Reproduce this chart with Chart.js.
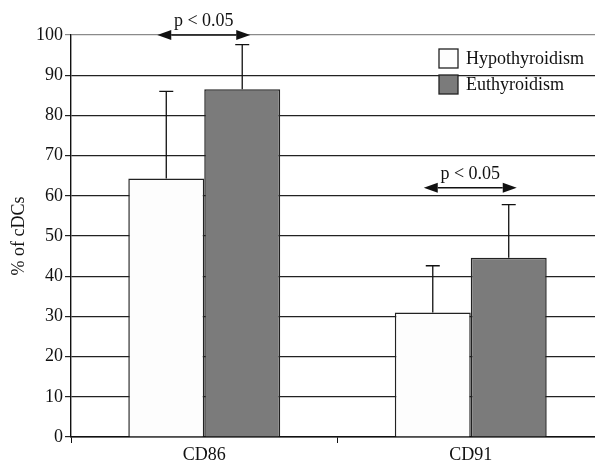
<!DOCTYPE html>
<html>
<head>
<meta charset="utf-8">
<script src="https://cdn.jsdelivr.net/npm/chart.js@4"></script>
<style>
  html, body { margin: 0; padding: 0; background: #fff; overflow: hidden; }
  #wrap { width: 595px; height: 462px; overflow: hidden; }
</style>
</head>
<body>
<div id="wrap"><canvas id="bar-chart" width="604" height="462"></canvas></div>
<script>
// values
const categories = ['CD86', 'CD91'];
const seriesNames = ['Hypothyroidism', 'Euthyroidism'];
const hypoValues = [64.3, 31.0];
const euthValues = [86.5, 44.6];
const hypoErrTop = [86.0, 42.6];
const euthErrTop = [97.6, 57.8];
const sigLevels = [100, 62];   // height of the p < 0.05 arrows
const sigLabel = 'p < 0.05';
const yTicks = [0, 10, 20, 30, 40, 50, 60, 70, 80, 90, 100];

const serif = 'Liberation Serif, Times New Roman, serif';

const errorBars = {
    id: 'errorBars',
    afterDatasetsDraw(chart) {
        const ctx = chart.ctx;
        const y = chart.scales.y;
        const tops = [hypoErrTop, euthErrTop];
        ctx.save();
        ctx.strokeStyle = '#111';
        ctx.lineWidth = 1.3;
        chart.data.datasets.forEach((ds, di) => {
            chart.getDatasetMeta(di).data.forEach((bar, i) => {
                const yt = y.getPixelForValue(tops[di][i]);
                ctx.beginPath();
                ctx.moveTo(bar.x, bar.y);
                ctx.lineTo(bar.x, yt);
                ctx.moveTo(bar.x - 7, yt);
                ctx.lineTo(bar.x + 7, yt);
                ctx.stroke();
            });
        });
        ctx.restore();
    }
};

const sigArrows = {
    id: 'sigArrows',
    afterDraw(chart) {
        const ctx = chart.ctx;
        const y = chart.scales.y;
        const m0 = chart.getDatasetMeta(0).data;
        const m1 = chart.getDatasetMeta(1).data;
        ctx.save();
        ctx.fillStyle = '#111';
        ctx.strokeStyle = '#111';
        ctx.lineWidth = 1.4;
        categories.forEach((c, i) => {
            const x1 = m0[i].x - 9;
            const x2 = m1[i].x + 8;
            const yy = y.getPixelForValue(sigLevels[i]);
            const head = 14, half = 5;
            ctx.beginPath();
            ctx.moveTo(x1 + head, yy);
            ctx.lineTo(x2 - head, yy);
            ctx.stroke();
            ctx.beginPath();
            ctx.moveTo(x1, yy);
            ctx.lineTo(x1 + head, yy - half);
            ctx.lineTo(x1 + head, yy + half);
            ctx.closePath();
            ctx.fill();
            ctx.beginPath();
            ctx.moveTo(x2, yy);
            ctx.lineTo(x2 - head, yy - half);
            ctx.lineTo(x2 - head, yy + half);
            ctx.closePath();
            ctx.fill();
            ctx.font = '18px ' + serif;
            ctx.textAlign = 'center';
            ctx.textBaseline = 'alphabetic';
            ctx.fillText(sigLabel, (x1 + x2) / 2, yy - 9);
        });
        ctx.restore();
    }
};

const boxLegend = {
    id: 'boxLegend',
    afterDraw(chart) {
        const ctx = chart.ctx;
        const a = chart.chartArea;
        const x0 = a.left + 368;
        const y0 = a.top + 14;
        ctx.save();
        ctx.font = '18px ' + serif;
        ctx.textBaseline = 'middle';
        ctx.textAlign = 'left';
        chart.data.datasets.forEach((ds, i) => {
            const yb = y0 + i * 26;
            ctx.fillStyle = ds.backgroundColor;
            ctx.fillRect(x0, yb, 19, 19);
            ctx.strokeStyle = '#222';
            ctx.lineWidth = 1.3;
            ctx.strokeRect(x0, yb, 19, 19);
            ctx.fillStyle = '#111';
            ctx.fillText(ds.label, x0 + 27, yb + 10);
        });
        ctx.restore();
    }
};

new Chart(document.getElementById('bar-chart'), {
    type: 'bar',
    data: {
        labels: categories,
        datasets: [
            {
                label: seriesNames[0],
                data: hypoValues,
                backgroundColor: '#fdfdfd',
                borderColor: '#222',
                borderWidth: 1.5
            },
            {
                label: seriesNames[1],
                data: euthValues,
                backgroundColor: '#7b7b7b',
                borderColor: '#222',
                borderWidth: 1.5
            }
        ]
    },
    options: {
        responsive: false,
        animation: false,
        devicePixelRatio: 1,
        layout: { padding: { top: 35, right: 0, left: 0, bottom: 0 } },
        datasets: { bar: { categoryPercentage: 0.57, barPercentage: 1.0 } },
        plugins: {
            legend: { display: false },
            tooltip: { enabled: false }
        },
        scales: {
            x: {
                offset: true,
                grid: {
                    offset: true,
                    drawOnChartArea: false,
                    drawTicks: true,
                    tickLength: 6,
                    color: '#111'
                },
                border: { color: '#111', width: 1.4 },
                ticks: {
                    color: '#111',
                    padding: 1,
                    font: { family: serif, size: 18 }
                },
                afterFit(s) { s.height = 25; }
            },
            y: {
                min: 0,
                max: 100,
                afterBuildTicks(s) { s.ticks = yTicks.map(v => ({ value: v })); },
                grid: {
                    color: ctx => (ctx.tick && ctx.tick.value === 100 ? '#8a8a8a' : '#222'),
                    lineWidth: 1.2,
                    tickLength: 6
                },
                border: { color: '#111', width: 1.4 },
                ticks: {
                    color: '#111',
                    padding: 2,
                    font: { family: serif, size: 18 }
                },
                title: {
                    display: true,
                    text: '% of cDCs',
                    color: '#111',
                    padding: { top: 8, bottom: 0 },
                    font: { family: serif, size: 18 }
                },
                afterFit(s) { s.width = 71; }
            }
        }
    },
    plugins: [errorBars, sigArrows, boxLegend]
});
</script>
</body>
</html>
